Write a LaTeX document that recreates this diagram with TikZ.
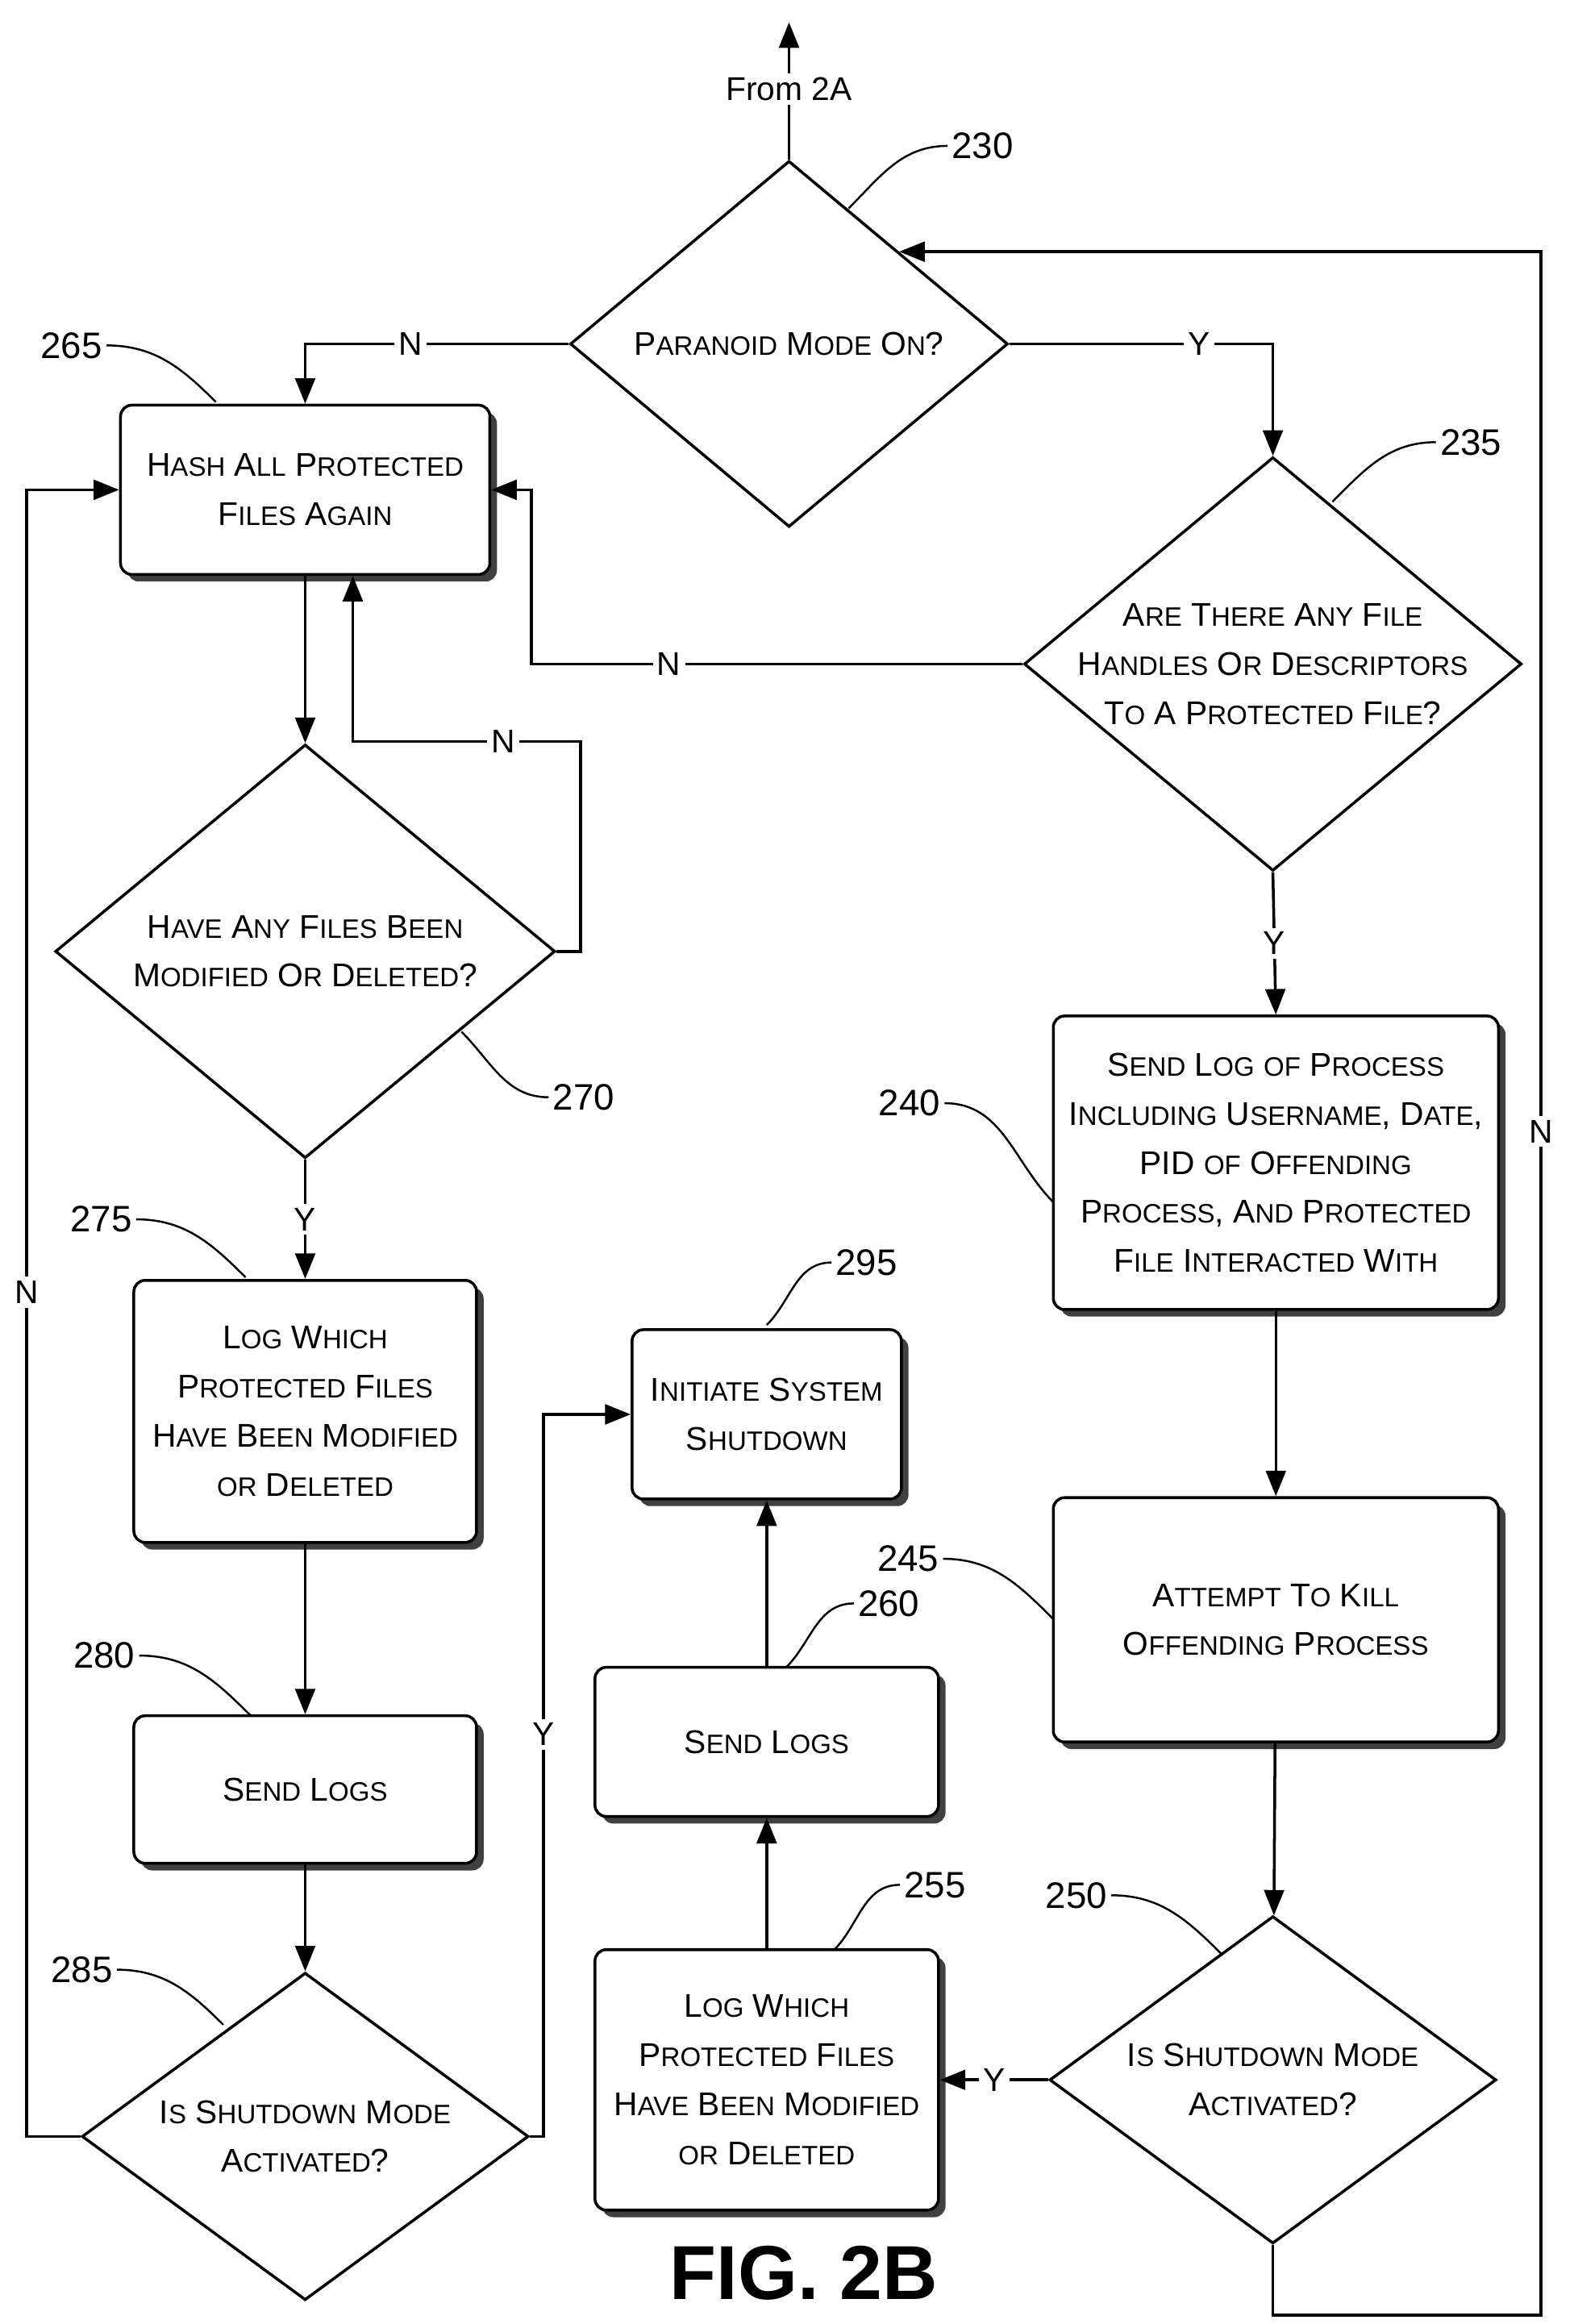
\documentclass[tikz,border=0pt]{standalone}
\usepackage{fontspec}
\setmainfont{Liberation Sans}
\usetikzlibrary{shapes.geometric,arrows.meta,shadows}
\newcommand\smc[1]{{\fontsize{9.4pt}{17.3pt}\selectfont #1}}

\begin{document}
\begin{tikzpicture}[x=0.01846cm,y=-0.01846cm,
    line width=1pt,
    box/.style={rectangle, draw=black, fill=white, rounded corners=4pt,
        align=center, inner sep=2pt,
        drop shadow={shadow xshift=2.5pt, shadow yshift=-2.5pt, fill=black!75, opacity=1}},
    dia/.style={diamond, draw=black, fill=white, inner sep=0pt},
    txt/.style={align=center, inner sep=0pt},
    arr/.style={-{Triangle[length=9pt,width=7pt]}},
    lbl/.style={fill=white, inner sep=1.5pt},
    font=\fontsize{11.6pt}{17.3pt}\selectfont
]
    \useasboundingbox (0,0) rectangle (1057,1561);

    % decisions
    \node[dia, minimum width=5.43cm, minimum height=4.54cm] (d230) at (530,231) {};
    \node[txt] (t230) at (d230) {P\smc{ARANOID} M\smc{ODE} O\smc{N}?};
    \node[dia, minimum width=6.17cm, minimum height=5.13cm] (d235) at (855,446) {};
    \node[txt] (t235) at (d235)
        {A\smc{RE} T\smc{HERE} A\smc{NY} F\smc{ILE}\\H\smc{ANDLES} O\smc{R} D\smc{ESCRIPTORS}\\T\smc{O} A P\smc{ROTECTED} F\smc{ILE}?};
    \node[dia, minimum width=6.20cm, minimum height=5.13cm] (d270) at (205,639) {};
    \node[txt] (t270) at (d270)
        {H\smc{AVE} A\smc{NY} F\smc{ILES} B\smc{EEN}\\M\smc{ODIFIED} O\smc{R} D\smc{ELETED}?};
    \node[dia, minimum width=5.54cm, minimum height=4.06cm] (d250) at (855,1397) {};
    \node[txt] (t250) at (d250) {I\smc{S} S\smc{HUTDOWN} M\smc{ODE}\\A\smc{CTIVATED}?};
    \node[dia, minimum width=5.54cm, minimum height=4.06cm] (d285) at (205,1435) {};
    \node[txt] (t285) at (d285) {I\smc{S} S\smc{HUTDOWN} M\smc{ODE}\\A\smc{CTIVATED}?};

    % process boxes
    \node[box, minimum width=4.58cm, minimum height=2.10cm] (b265) at (205,329)
        {H\smc{ASH} A\smc{LL} P\smc{ROTECTED}\\F\smc{ILES} A\smc{GAIN}};
    \node[box, minimum width=5.52cm, minimum height=3.64cm] (b240) at (857,781)
        {S\smc{END} L\smc{OG} \smc{OF} P\smc{ROCESS}\\I\smc{NCLUDING} U\smc{SERNAME}, D\smc{ATE},\\PID \smc{OF} O\smc{FFENDING}\\P\smc{ROCESS}, A\smc{ND} P\smc{ROTECTED}\\F\smc{ILE} I\smc{NTERACTED} W\smc{ITH}};
    \node[box, minimum width=5.52cm, minimum height=3.03cm] (b245) at (857,1088)
        {A\smc{TTEMPT} T\smc{O} K\smc{ILL}\\O\smc{FFENDING} P\smc{ROCESS}};
    \node[box, minimum width=4.26cm, minimum height=3.23cm] (b255) at (515,1397)
        {L\smc{OG} W\smc{HICH}\\P\smc{ROTECTED} F\smc{ILES}\\H\smc{AVE} B\smc{EEN} M\smc{ODIFIED}\\\smc{OR} D\smc{ELETED}};
    \node[box, minimum width=4.26cm, minimum height=1.85cm] (b260) at (515,1170)
        {S\smc{END} L\smc{OGS}};
    \node[box, minimum width=3.34cm, minimum height=2.10cm] (b295) at (515,950)
        {I\smc{NITIATE} S\smc{YSTEM}\\S\smc{HUTDOWN}};
    \node[box, minimum width=4.25cm, minimum height=3.25cm] (b275) at (205,948)
        {L\smc{OG} W\smc{HICH}\\P\smc{ROTECTED} F\smc{ILES}\\H\smc{AVE} B\smc{EEN} M\smc{ODIFIED}\\\smc{OR} D\smc{ELETED}};
    \node[box, minimum width=4.25cm, minimum height=1.83cm] (b280) at (205,1202)
        {S\smc{END} L\smc{OGS}};

    % bends
    \coordinate (top) at (530,15);
    \coordinate (c1) at (357,446);
    \coordinate (c2) at (1035,1555);
    \coordinate (c3) at (1035,760);
    \coordinate (c4) at (390,498);
    \coordinate (c5) at (237,498);
    \coordinate (c6) at (18,868);
    \coordinate (c7) at (365,1165);

    % connectors
    \draw[arr] (d230.north) -- (top);
    \node[lbl] (from) at (530,60) {From 2A};
    \draw[arr] (d230.west) -| node[lbl, pos=.3] {N} (b265.north);
    \draw[arr] (d230.east) -| node[lbl, pos=.36] {Y} (d235.north);
    \draw[arr] (d235.west) -- node[lbl, pos=.72] {N} (c1) |- (b265.east);
    \draw[arr] (d235.south) -- node[lbl] {Y} (b240.north);
    \draw[arr] (b240) -- (b245);
    \draw[arr] (b245) -- (d250);
    \draw[arr] (d250.south) |- (c2) -- (c3) node[lbl] {N} |- (d230.north east);
    \draw[arr] (d250.west) -- node[lbl] {Y} (b255.east);
    \draw[arr] (b255) -- (b260);
    \draw[arr] (b260) -- (b295);
    \draw[arr] (b265) -- (d270);
    \draw[arr] (d270.east) -| (c4) -- node[lbl, pos=.34] {N} (c5) -- (c5 |- b265.south);
    \draw[arr] (d270.south) -- node[lbl] {Y} (b275.north);
    \draw[arr] (b275) -- (b280);
    \draw[arr] (b280) -- (d285);
    \draw[arr] (d285.west) -| (c6) node[lbl] {N} |- (b265.west);
    \draw[arr] (d285.east) -| (c7) node[lbl] {Y} |- (b295.west);

    % reference numbers
    \foreach \i/\lx/\ly/\tx/\ty/\a/\o/\n in {
        230/660/98/570/140/west/180/45, 235/988/297/895/337/west/180/45,
        270/392/737/310/693/west/180/-45, 295/582/848/515/890/west/180/45,
        260/597/1077/528/1120/west/180/45, 255/628/1266/560/1310/west/180/45,
        265/48/232/145/270/east/0/135, 275/68/819/165/858/east/0/135,
        280/70/1112/168/1152/east/0/135, 285/55/1323/150/1360/east/0/135,
        250/723/1273/820/1312/east/0/135, 245/610/1047/708/1088/east/0/135,
        240/611/741/708/808/east/0/135} {
        \node[inner sep=1pt, font=\fontsize{13pt}{15pt}\selectfont] (n\i) at (\lx,\ly) {\i};
        \coordinate (t\i) at (\tx,\ty);
        \draw[line width=0.7pt] (n\i.\a) to[out=\o, in=\n] (t\i);
    }

    \node[font=\fontsize{27pt}{30pt}\selectfont\bfseries] (fig) at (540,1527) {FIG. 2B};
\end{tikzpicture}
\end{document}
